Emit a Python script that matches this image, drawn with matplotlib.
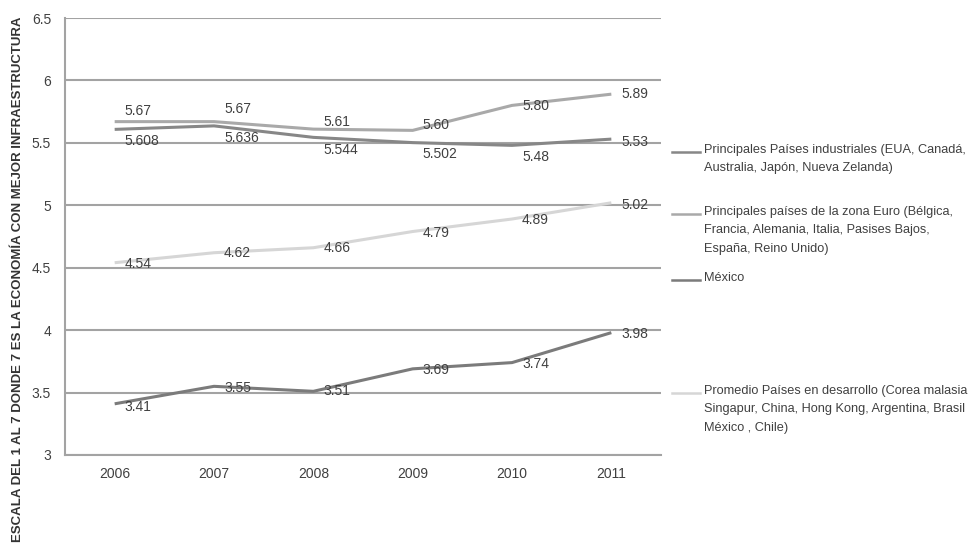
import matplotlib
matplotlib.use("Agg")
import matplotlib.pyplot as plt
from matplotlib.lines import Line2D

plt.rcParams['font.family'] = ['Liberation Sans', 'DejaVu Sans']

years = ['2006', '2007', '2008', '2009', '2010', '2011']

industriales = [5.608, 5.636, 5.544, 5.502, 5.48, 5.53]
industriales_lbl = ['5.608', '5.636', '5.544', '5.502', '5.48', '5.53']
euro = [5.67, 5.67, 5.61, 5.60, 5.80, 5.89]
euro_lbl = ['5.67', '5.67', '5.61', '5.60', '5.80', '5.89']
mexico = [3.41, 3.55, 3.51, 3.69, 3.74, 3.98]
mexico_lbl = ['3.41', '3.55', '3.51', '3.69', '3.74', '3.98']
desarrollo = [4.54, 4.62, 4.66, 4.79, 4.89, 5.02]
desarrollo_lbl = ['4.54', '4.62', '4.66', '4.79', '4.89', '5.02']

yticks = [3, 3.5, 4, 4.5, 5, 5.5, 6, 6.5]
ytick_lbl = ['3', '3.5', '4', '4.5', '5', '5.5', '6', '6.5']

leg_industriales = "Principales Países industriales (EUA, Canadá,\nAustralia, Japón, Nueva Zelanda)"
leg_euro = "Principales países de la zona Euro (Bélgica,\nFrancia, Alemania, Italia, Pasises Bajos,\nEspaña, Reino Unido)"
leg_mexico = "México"
leg_desarrollo = "Promedio Países en desarrollo (Corea malasia\nSingapur, China, Hong Kong, Argentina, Brasil\nMéxico , Chile)"
ylabel = "ESCALA DEL 1 AL 7 DONDE 7 ES LA ECONOMÍA CON MEJOR INFRAESTRUCTURA"

W, H = 977, 554
fig = plt.figure(figsize=(W / 100, H / 100), dpi=100)
ax = fig.add_axes([65 / W, 1 - 455 / H, (661 - 65) / W, (455 - 18) / H])

x = list(range(len(years)))
# px offsets (dy screen-down) for each series' labels
series = [
    (industriales, industriales_lbl, '#878787', [12, 12, 13, 11, 12, 3]),
    (euro, euro_lbl, '#a9a9a9', [-11, -13, -7, -5, 1, 0]),
    (mexico, mexico_lbl, '#7b7b7b', [3, 2, 0, 1, 1, 1]),
    (desarrollo, desarrollo_lbl, '#d6d6d6', [1, 0, 0, 1, 1, 2]),
]

for vals, lbls, col, dys in series:
    ax.plot(x, vals, color=col, lw=2.2, solid_capstyle='butt', zorder=3)
    for xi, v, t, dy in zip(x, vals, lbls, dys):
        ax.annotate(t, (xi, v), xytext=(10 * 0.72, -dy * 0.72), textcoords='offset points',
                    ha='left', va='center', fontsize=10, color='#404040', zorder=4)

ax.set_xlim(-0.5, 5.5)
ax.set_ylim(3, 6.5)
ax.set_yticks(yticks)
ax.set_yticklabels(ytick_lbl)
ax.set_xticks(x)
ax.set_xticklabels(years)
ax.tick_params(length=0, labelsize=10, labelcolor='#404040')
ax.tick_params(axis='y', pad=10)
ax.tick_params(axis='x', pad=9)
for yt in yticks:
    ax.axhline(yt, color='#a3a3a3', lw=1.5, zorder=1)
for s in ['top', 'right']:
    ax.spines[s].set_visible(False)
for s in ['left', 'bottom']:
    ax.spines[s].set_color('#a3a3a3')
    ax.spines[s].set_linewidth(1.5)

# legend drawn by hand
legend = [
    (leg_industriales, '#878787', 152),
    (leg_euro, '#a9a9a9', 214),
    (leg_mexico, '#7b7b7b', 280),
    (leg_desarrollo, '#d6d6d6', 393),
]
for txt, col, ypx in legend:
    fig.add_artist(Line2D([672 / W, 700 / W], [1 - ypx / H, 1 - ypx / H], color=col, lw=1.8))
    fig.text(704 / W, 1 - (ypx - 8) / H, txt, ha='left', va='top', fontsize=9.2,
             color='#404040', linespacing=1.7)

fig.text(18 / W, 1 - 16 / H, ylabel, rotation=90, ha='center', va='top',
         fontsize=9.5, fontweight='bold', color='#333333')

fig.savefig('out.png', dpi=100)
